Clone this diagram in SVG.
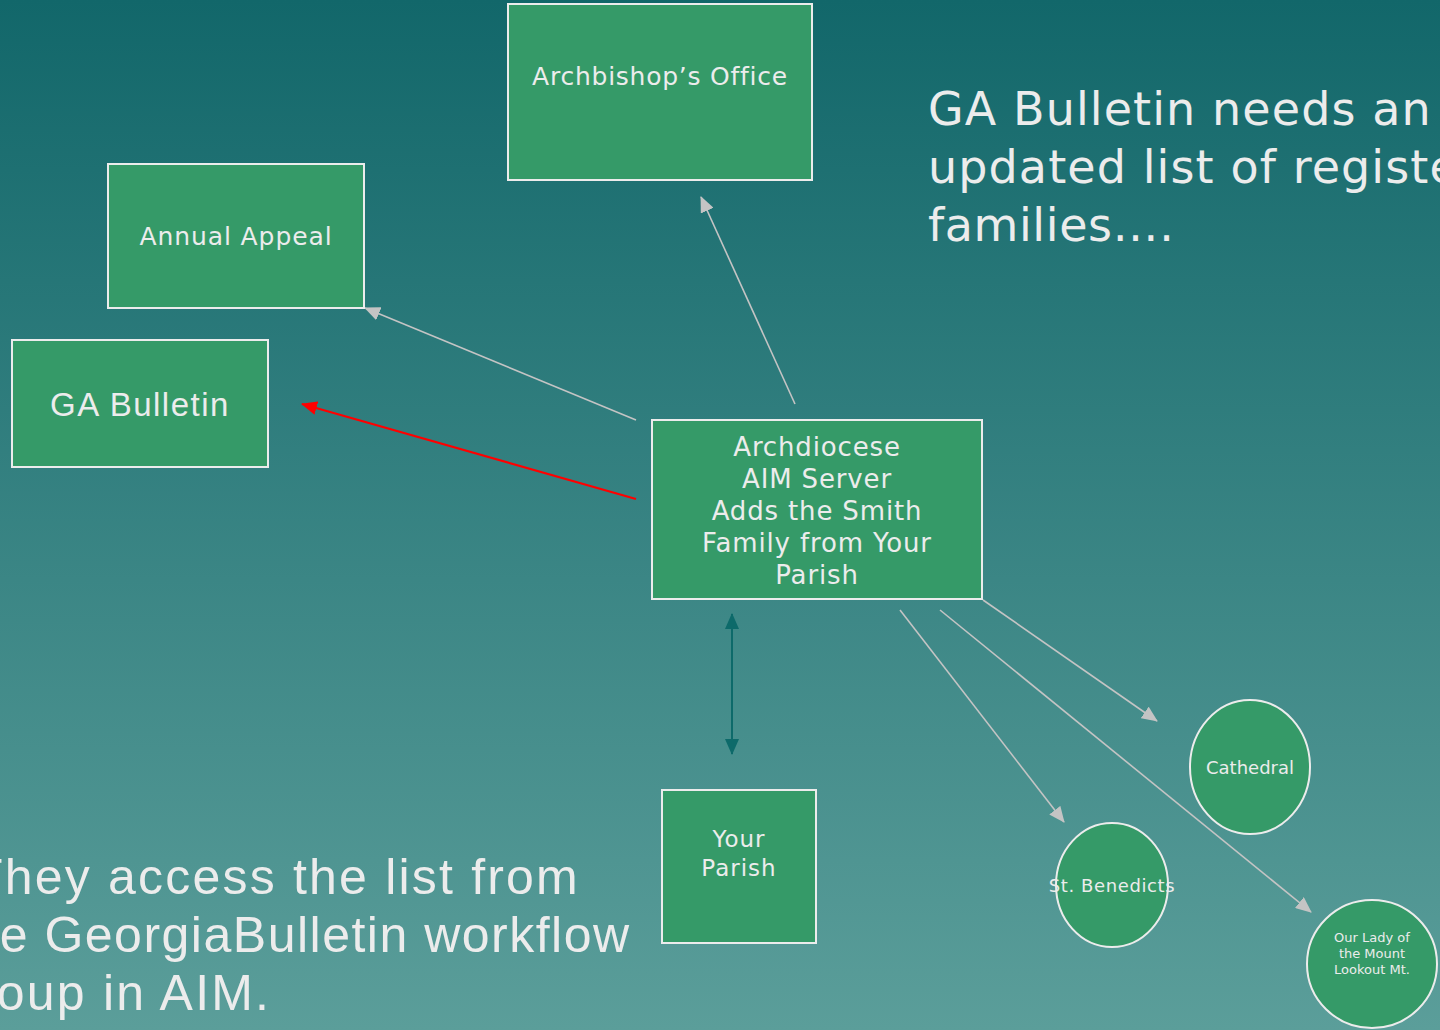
<svg xmlns="http://www.w3.org/2000/svg" width="1440" height="1030" viewBox="0 0 1440 1030">
<defs>
<linearGradient id="bg" x1="0" y1="0" x2="0" y2="1">
<stop offset="0" stop-color="#12676a"/>
<stop offset="1" stop-color="#5b9e9a"/>
</linearGradient>
<marker id="ag" viewBox="0 0 16 14" refX="15" refY="7" markerWidth="16" markerHeight="14" markerUnits="userSpaceOnUse" orient="auto"><path d="M0,0 L16,7 L0,14 Z" fill="#c4c4c4"/></marker>
<marker id="ar" viewBox="0 0 16 14" refX="15" refY="7" markerWidth="16" markerHeight="14" markerUnits="userSpaceOnUse" orient="auto"><path d="M0,0 L16,7 L0,14 Z" fill="#ff0000"/></marker>
<marker id="at" viewBox="0 0 16 14" refX="15" refY="7" markerWidth="16" markerHeight="14" markerUnits="userSpaceOnUse" orient="auto-start-reverse"><path d="M0,0 L16,7 L0,14 Z" fill="#0d6a6a"/></marker>
</defs>
<style>
.box{fill:#359a68;stroke:#ececec;stroke-width:2}
.t{fill:#ececec;font-family:"DejaVu Sans","Verdana",sans-serif;text-anchor:middle}
.l{fill:#ececec;font-family:"DejaVu Sans","Verdana",sans-serif}
.n{fill:#ececec;font-family:"Liberation Sans","Arial",sans-serif}
.c{fill:none;stroke:#c4c4c4;stroke-width:1.6}
</style>
<rect width="1440" height="1030" fill="url(#bg)"/>
<g class="l" font-size="46" letter-spacing="1.1">
<text x="928" y="125">GA Bulletin needs an</text>
<text x="928" y="183">updated list of registered</text>
<text x="928" y="241" letter-spacing="0.6">families….</text>
</g>
<g class="n" font-size="50">
<text x="-28" y="894" letter-spacing="2.2">They access the list from</text>
<text x="-45" y="952" letter-spacing="1.5">the GeorgiaBulletin workflow</text>
<text x="-52" y="1010" letter-spacing="2.2">group in AIM.</text>
</g>
<g id="connectors">
<line class="c" x1="795" y1="404" x2="701" y2="197" marker-end="url(#ag)"/>
<line class="c" x1="636" y1="420" x2="365" y2="308" marker-end="url(#ag)"/>
<line x1="636" y1="499" x2="302" y2="404" stroke="#ff0000" stroke-width="2" marker-end="url(#ar)"/>
<line x1="732" y1="614" x2="732" y2="754" stroke="#0d6a6a" stroke-width="2" marker-start="url(#at)" marker-end="url(#at)"/>
<line class="c" x1="983" y1="600" x2="1157" y2="721" marker-end="url(#ag)"/>
<line class="c" x1="900" y1="610" x2="1064" y2="822" marker-end="url(#ag)"/>
<line class="c" x1="940" y1="610" x2="1311" y2="912" marker-end="url(#ag)"/>
</g>
<g id="archbishop"><rect class="box" x="508" y="4" width="304" height="176"/><text class="t" x="660" y="85" font-size="25" letter-spacing="0.75">Archbishop’s Office</text></g>
<g id="appeal"><rect class="box" x="108" y="164" width="256" height="144"/><text class="t" x="236" y="245" font-size="25" letter-spacing="0.9">Annual Appeal</text></g>
<g id="bulletin"><rect class="box" x="12" y="340" width="256" height="127"/><text class="n" x="140" y="416" font-size="33" letter-spacing="1.5" text-anchor="middle">GA Bulletin</text></g>
<g id="server"><rect class="box" x="652" y="420" width="330" height="179"/>
<text class="t" font-size="26" letter-spacing="0.85"><tspan x="817" y="456">Archdiocese</tspan><tspan x="817" y="488">AIM Server</tspan><tspan x="817" y="520">Adds the Smith</tspan><tspan x="817" y="552">Family from Your</tspan><tspan x="817" y="584">Parish</tspan></text></g>
<g id="parish"><rect class="box" x="662" y="790" width="154" height="153"/><text class="t" font-size="23" letter-spacing="1"><tspan x="739" y="847">Your</tspan><tspan x="739" y="876">Parish</tspan></text></g>
<g id="cathedral"><ellipse class="box" cx="1250" cy="767" rx="60" ry="67"/><text class="t" x="1250" y="774" font-size="18">Cathedral</text></g>
<g id="benedicts"><ellipse class="box" cx="1112" cy="885" rx="56" ry="62"/><text class="t" x="1112" y="892" font-size="18" letter-spacing="0.6">St. Benedicts</text></g>
<g id="ourlady"><ellipse class="box" cx="1372" cy="964" rx="65" ry="64"/><text class="t" font-size="13"><tspan x="1372" y="942">Our Lady of</tspan><tspan x="1372" y="958">the Mount</tspan><tspan x="1372" y="974">Lookout Mt.</tspan></text></g>
</svg>
